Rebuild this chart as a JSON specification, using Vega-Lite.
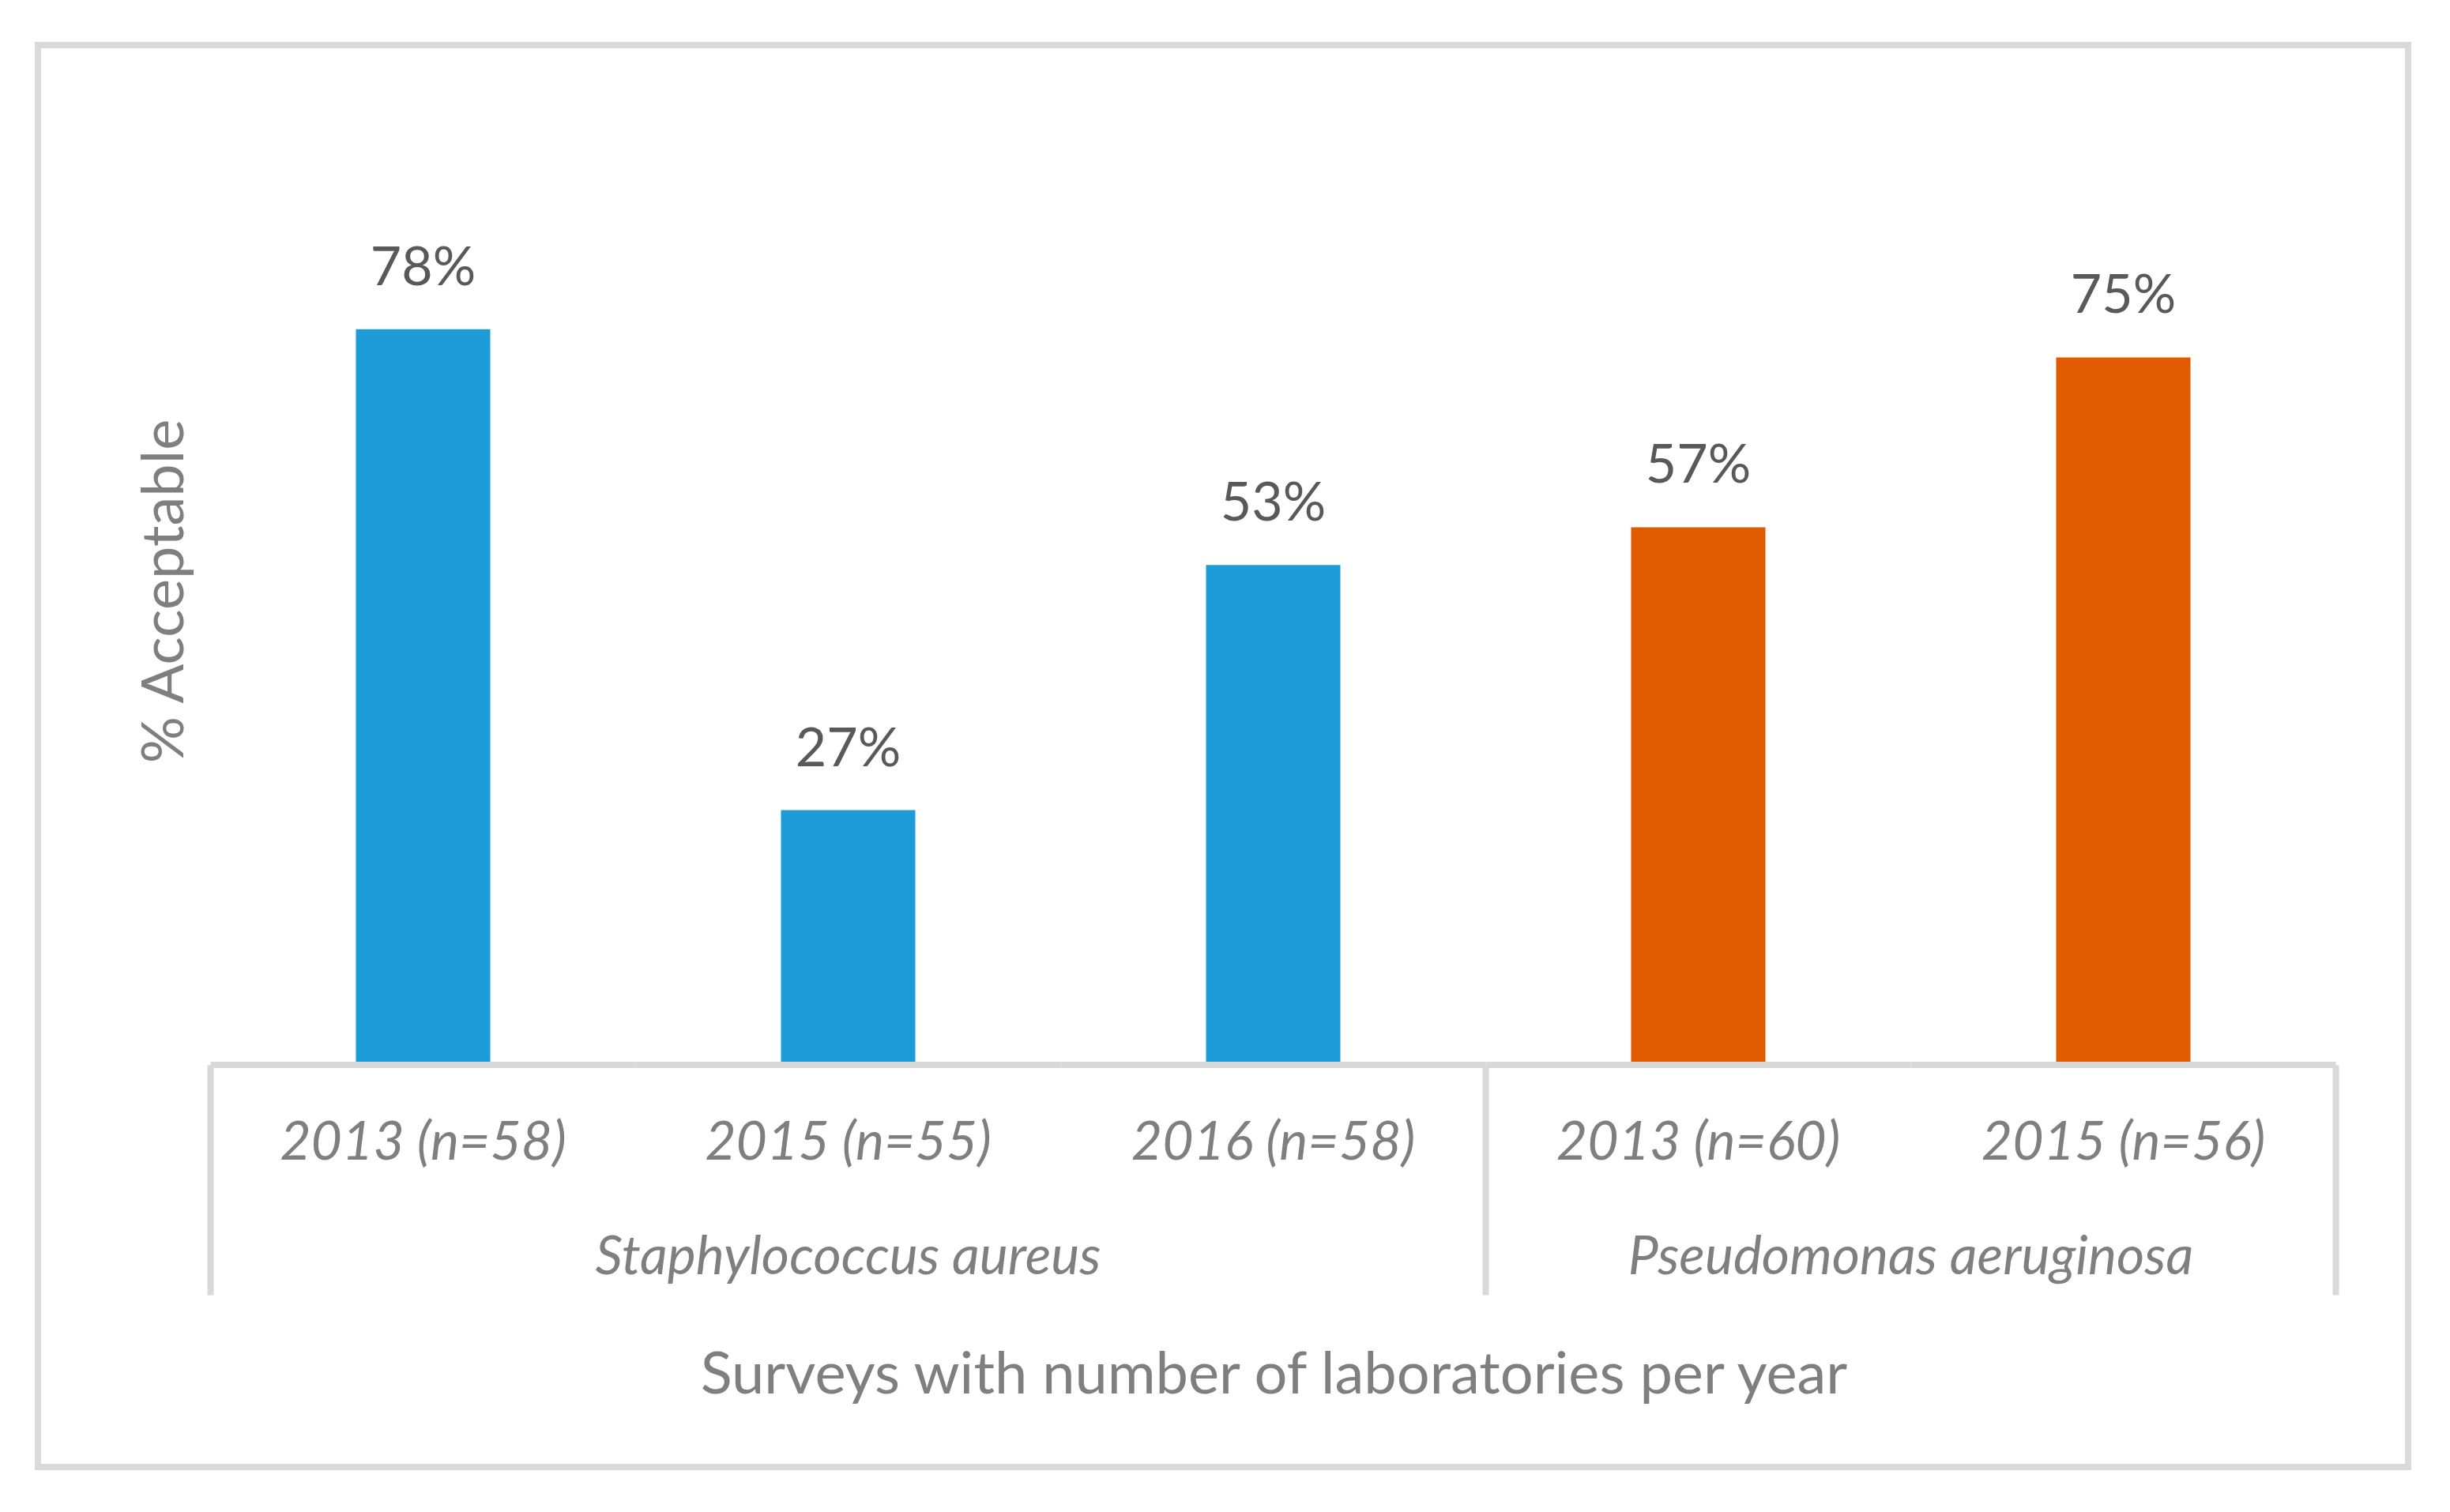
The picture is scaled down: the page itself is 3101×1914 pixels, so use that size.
{
  "$schema": "https://vega.github.io/schema/vega-lite/v6.json",
  "width": 3000,
  "height": 1800,
  "autosize": {"type": "none"},
  "padding": {"left": 48, "top": 57, "right": 53, "bottom": 57},
  "background": "white",
  "config": {
    "font": "Lato",
    "view": {"stroke": "#d9d9d9", "strokeWidth": 8}
  },
  "data": {
    "values": [
      {"cat": "2013 (n=58)|S", "species": "Staphylococcus aureus", "value": 0.78},
      {"cat": "2015 (n=55)|S", "species": "Staphylococcus aureus", "value": 0.27},
      {"cat": "2016 (n=58)|S", "species": "Staphylococcus aureus", "value": 0.53},
      {"cat": "2013 (n=60)|P", "species": "Pseudomonas aeruginosa", "value": 0.57},
      {"cat": "2015 (n=56)|P", "species": "Pseudomonas aeruginosa", "value": 0.75}
    ]
  },
  "layer": [
    {
      "mark": {"type": "bar", "width": {"band": 0.316}},
      "encoding": {
        "x": {
          "field": "cat",
          "type": "nominal",
          "sort": null,
          "scale": {"type": "band", "paddingInner": 0, "paddingOuter": 0.2881, "align": 0.7048},
          "axis": {
            "orient": "bottom",
            "offset": -509,
            "bandPosition": 0,
            "domain": false,
            "grid": false,
            "ticks": true,
            "tickSize": 291,
            "tickWidth": 8,
            "tickColor": "#d9d9d9",
            "tickOpacity": {"condition": {"test": "datum.value === '2013 (n=58)|S' || datum.value === '2013 (n=60)|P'", "value": 1}, "value": 0},
            "labelExpr": "split(datum.value, '|')[0]",
            "labelOffset": 0,
            "labelPadding": -172,
            "labelAngle": 0,
            "labelBaseline": "alphabetic",
            "labelFont": "Lato",
            "labelFontStyle": "italic",
            "labelFontSize": 68,
            "labelColor": "#7f7f7f",
            "labelLimit": 2000,
            "labelOverlap": false,
            "title": "Surveys with number of laboratories per year",
            "titleFont": "Lato",
            "titleFontSize": 74,
            "titleFontWeight": "normal",
            "titleColor": "#7f7f7f",
            "titleX": 1564,
            "titleY": 415,
            "titleBaseline": "alphabetic",
            "titleAlign": "center"
          }
        },
        "y": {
          "field": "value",
          "type": "quantitative",
          "scale": {"domain": [-0.4263, 1.0812], "nice": false, "zero": false},
          "axis": {
            "labels": false,
            "ticks": false,
            "domain": false,
            "grid": false,
            "title": "% Acceptable",
            "titleFont": "Lato",
            "titleFontSize": 74,
            "titleFontWeight": "normal",
            "titleColor": "#7f7f7f",
            "titleAngle": -90,
            "titleX": 183,
            "titleY": 691,
            "titleBaseline": "alphabetic",
            "titleAlign": "center"
          }
        },
        "y2": {"datum": 0},
        "color": {
          "field": "species",
          "type": "nominal",
          "scale": {"domain": ["Staphylococcus aureus", "Pseudomonas aeruginosa"], "range": ["#1e9cd8", "#e05a00"]},
          "legend": null
        }
      }
    },
    {
      "mark": {"type": "rule", "color": "#d9d9d9", "strokeWidth": 8},
      "encoding": {
        "x": {
          "field": "cat",
          "type": "nominal",
          "sort": null,
          "bandPosition": 0,
          "axis": {
            "orient": "bottom",
            "offset": -509,
            "bandPosition": 1,
            "domain": false,
            "grid": false,
            "ticks": true,
            "tickSize": 291,
            "tickWidth": 8,
            "tickColor": "#d9d9d9",
            "tickOpacity": {"condition": {"test": "datum.value === '2015 (n=56)|P'", "value": 1}, "value": 0},
            "labelExpr": "datum.value === '2015 (n=55)|S' ? 'Staphylococcus aureus' : (datum.value === '2013 (n=60)|P' ? 'Pseudomonas aeruginosa' : '')",
            "labelOffset": {"condition": {"test": "datum.value === '2013 (n=60)|P'", "value": 269}, "value": 0},
            "labelPadding": -27,
            "labelAngle": 0,
            "labelBaseline": "alphabetic",
            "labelFont": "Lato",
            "labelFontStyle": "italic",
            "labelFontSize": 68,
            "labelColor": "#7f7f7f",
            "labelLimit": 2000,
            "labelOverlap": false,
            "title": null
          }
        },
        "x2": {"field": "cat", "bandPosition": 1},
        "y": {"datum": 0, "type": "quantitative", "axis": null}
      }
    },
    {
      "mark": {"type": "text", "baseline": "alphabetic", "align": "center", "dy": -56, "font": "Lato", "fontSize": 68, "color": "#595959"},
      "encoding": {
        "x": {"field": "cat", "type": "nominal", "sort": null, "axis": null},
        "y": {"field": "value", "type": "quantitative", "axis": null},
        "text": {"field": "value", "type": "quantitative", "format": ".0%"}
      }
    }
  ],
  "resolve": {"axis": {"x": "independent", "y": "independent"}}
}
